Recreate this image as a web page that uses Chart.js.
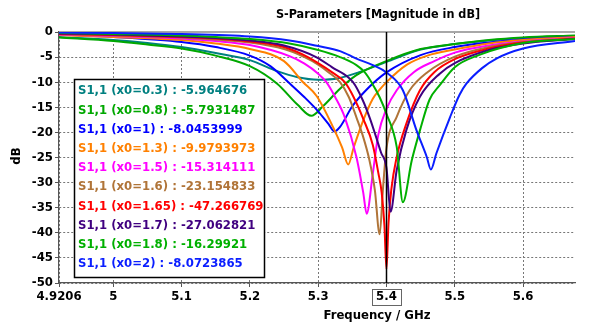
<!DOCTYPE html>
<html><head><meta charset="utf-8">
<script src="https://cdn.jsdelivr.net/npm/chart.js@4/dist/chart.umd.min.js"></script>
<style>html,body{margin:0;padding:0;background:#fff;}#wrap{width:595px;height:335px;}</style>
</head><body><div id="wrap"><canvas id="c" width="595" height="335"></canvas></div>
<script>
// ---- axis ticks ----
const xTickValues = [4.9206, 5, 5.1, 5.2, 5.3, 5.4, 5.5, 5.6];
const xTickLabels = ['4.9206', '5', '5.1', '5.2', '5.3', '5.4', '5.5', '5.6'];
const yTickValues = [0, -5, -10, -15, -20, -25, -30, -35, -40, -45, -50];
const xMin = 4.9206, xMax = 5.676;
const markerFreq = 5.4;

// ---- texts ----
const chartTitle = 'S-Parameters [Magnitude in dB]';
const xTitle = 'Frequency / GHz';
const yTitle = 'dB';
const seriesNames = ['S1,1 (x0=0.3)', 'S1,1 (x0=0.8)', 'S1,1 (x0=1)', 'S1,1 (x0=1.3)', 'S1,1 (x0=1.5)',
  'S1,1 (x0=1.6)', 'S1,1 (x0=1.65)', 'S1,1 (x0=1.7)', 'S1,1 (x0=1.8)', 'S1,1 (x0=2)'];
const markerValues = ['-5.964676', '-5.7931487', '-8.0453999', '-9.9793973', '-15.314111',
  '-23.154833', '-47.266769', '-27.062821', '-16.29921', '-8.0723865'];
const seriesColors = ['#008080', '#00A800', '#0000FF', '#FF8000', '#FF00FF',
  '#B07438', '#FF0000', '#400080', '#00B000', '#0A1EFF'];

// ---- series data (frequency GHz / dB) ----
const f03 = [4.9206, 5.0, 5.05, 5.1, 5.15, 5.2, 5.24, 5.27, 5.30, 5.33, 5.36, 5.4, 5.45, 5.5, 5.55, 5.6, 5.676];
const d03 = [-1.0, -1.6, -2.2, -3.0, -4.2, -5.6, -7.8, -9.0, -9.5, -9.2, -8.0, -5.96, -3.5, -2.4, -1.7, -1.2, -0.8];

const f08 = [4.9206, 5.0, 5.05, 5.1, 5.15, 5.2, 5.24, 5.27, 5.29, 5.307, 5.332, 5.356, 5.4, 5.45, 5.5, 5.55, 5.6, 5.676];
const d08 = [-1.1, -1.8, -2.5, -3.3, -4.7, -6.8, -10.3, -14.5, -16.7, -14.8, -11.3, -8.6, -5.79, -3.4, -2.4, -1.6, -1.1, -0.7];

const f10 = [4.9206, 5.0, 5.1, 5.15, 5.2, 5.23, 5.258, 5.28, 5.30, 5.315, 5.324, 5.332, 5.35, 5.37, 5.4, 5.45, 5.5, 5.55, 5.6, 5.676];
const d10 = [-0.5, -1.0, -2.0, -3.0, -4.7, -6.8, -10.2, -13.0, -15.8, -18.3, -19.8, -18.9, -14.8, -11.6, -8.05, -4.6, -3.0, -2.1, -1.5, -1.0];

const f13 = [4.9206, 5.0, 5.1, 5.15, 5.2, 5.25, 5.278, 5.298, 5.322, 5.335, 5.344, 5.352, 5.366, 5.38, 5.39, 5.4, 5.43, 5.46, 5.5, 5.55, 5.6, 5.676];
const d13 = [-0.6, -1.0, -1.6, -2.3, -3.4, -5.8, -10.0, -12.8, -19.0, -23.0, -26.4, -23.0, -17.6, -13.3, -11.5, -9.98, -6.5, -4.7, -3.5, -2.3, -1.6, -1.0];

const f15 = [4.9206, 5.0, 5.1, 5.15, 5.2, 5.258, 5.28, 5.30, 5.312, 5.325, 5.339, 5.356, 5.366, 5.371, 5.38, 5.388, 5.4, 5.415, 5.44, 5.47, 5.5, 5.55, 5.6, 5.676];
const d15 = [-0.5, -0.8, -1.3, -1.8, -2.6, -4.8, -6.3, -8.3, -10.0, -13.0, -17.0, -24.9, -32.0, -36.2, -28.2, -20.5, -15.31, -11.6, -8.0, -5.8, -4.1, -2.7, -1.9, -1.2];

const f16 = [4.9206, 5.0, 5.1, 5.15, 5.2, 5.25, 5.28, 5.30, 5.315, 5.332, 5.345, 5.356, 5.365, 5.375, 5.383, 5.390, 5.395, 5.4, 5.415, 5.434, 5.46, 5.5, 5.55, 5.6, 5.676];
const d16 = [-0.4, -0.7, -1.1, -1.5, -2.1, -3.4, -5.0, -6.5, -8.0, -10.0, -13.0, -17.0, -20.5, -25.5, -31.5, -40.3, -31.0, -23.15, -16.9, -11.6, -8.0, -4.9, -3.0, -2.0, -1.3];

const f165 = [4.9206, 5.0, 5.1, 5.15, 5.2, 5.25, 5.285, 5.30, 5.32, 5.339, 5.352, 5.366, 5.380, 5.388, 5.393, 5.397, 5.400, 5.403, 5.407, 5.415, 5.429, 5.449, 5.47, 5.5, 5.55, 5.6, 5.676];
const d165 = [-0.4, -0.6, -1.0, -1.3, -1.9, -3.0, -5.0, -6.2, -8.0, -10.0, -13.0, -17.3, -22.5, -28.0, -32.0, -38.5, -47.27, -38.0, -31.5, -24.9, -18.3, -11.6, -8.0, -5.4, -3.3, -2.1, -1.3];

const f17 = [4.9206, 5.0, 5.1, 5.15, 5.2, 5.25, 5.297, 5.32, 5.351, 5.365, 5.376, 5.385, 5.392, 5.4, 5.406, 5.415, 5.429, 5.449, 5.478, 5.5, 5.55, 5.6, 5.676];
const d17 = [-0.3, -0.5, -0.9, -1.2, -1.7, -2.7, -5.0, -7.0, -10.0, -13.5, -17.3, -21.0, -24.0, -27.06, -35.8, -27.5, -19.6, -12.9, -8.3, -6.2, -3.6, -2.3, -1.4];

const f18 = [4.9206, 5.0, 5.1, 5.15, 5.2, 5.258, 5.30, 5.332, 5.356, 5.368, 5.378, 5.39, 5.4, 5.415, 5.424, 5.437, 5.449, 5.463, 5.478, 5.5, 5.535, 5.6, 5.676];
const d18 = [-0.2, -0.4, -0.7, -1.0, -1.4, -2.3, -3.6, -5.0, -6.6, -8.0, -10.0, -13.0, -16.3, -22.9, -33.9, -25.6, -19.6, -13.5, -10.6, -7.0, -4.6, -2.2, -1.4];

const f20 = [4.9206, 5.0, 5.1, 5.2, 5.258, 5.3, 5.332, 5.356, 5.38, 5.4, 5.424, 5.444, 5.459, 5.465, 5.473, 5.493, 5.507, 5.517, 5.54, 5.561, 5.6, 5.676];
const d20 = [-0.1, -0.2, -0.4, -0.9, -1.7, -2.8, -3.8, -5.3, -6.6, -8.07, -11.6, -19.6, -24.9, -27.4, -24.2, -17.0, -12.5, -10.3, -7.2, -5.3, -3.3, -1.8];

const seriesFreqs = [f03, f08, f10, f13, f15, f16, f165, f17, f18, f20];
const seriesDb = [d03, d08, d10, d13, d15, d16, d165, d17, d18, d20];

// ---- layout / style ----
const FONT = "'DejaVu Sans Condensed', 'DejaVu Sans', sans-serif";
const plotLeft = 59, plotRight = 575, plotTop = 32, plotBottom = 283;
const W = 595, H = 335;

const datasets = seriesNames.map((name, i) => ({
  label: name,
  data: seriesFreqs[i].map((f, k) => ({ x: f, y: seriesDb[i][k] })),
  borderColor: seriesColors[i],
  backgroundColor: seriesColors[i],
  borderWidth: 2,
  pointRadius: 0,
  cubicInterpolationMode: 'monotone',
  fill: false,
  order: seriesNames.length - i
}));

const decor = {
  id: 'decor',
  beforeDatasetsDraw(chart) {
    const { ctx, chartArea: a } = chart;
    ctx.save();
    ctx.strokeStyle = '#a8a8a8';
    ctx.lineWidth = 2;
    ctx.beginPath(); ctx.moveTo(a.left, a.top); ctx.lineTo(a.right, a.top); ctx.stroke();
    ctx.restore();
  },
  afterDatasetsDraw(chart) {
    const { ctx, chartArea: a, scales: { x } } = chart;
    ctx.save();
    // marker line
    const mx = Math.round(x.getPixelForValue(markerFreq)) + 0.5;
    ctx.strokeStyle = '#000';
    ctx.lineWidth = 1.5;
    ctx.beginPath(); ctx.moveTo(mx, a.top); ctx.lineTo(mx, a.bottom); ctx.stroke();
    // box around marker tick label
    ctx.strokeStyle = '#666';
    ctx.lineWidth = 1;
    ctx.strokeRect(Math.round(mx - 15) + 0.5, 289.5, 29, 16);
    // legend box
    const lx = 74.5, ly = 79.5, lw = 190, lh = 198;
    ctx.fillStyle = '#fff';
    ctx.fillRect(lx, ly, lw, lh);
    ctx.strokeStyle = '#000';
    ctx.lineWidth = 1.5;
    ctx.strokeRect(lx, ly, lw, lh);
    ctx.font = 'bold 13px ' + FONT;
    ctx.textBaseline = 'middle';
    ctx.textAlign = 'left';
    seriesNames.forEach((n, i) => {
      ctx.fillStyle = seriesColors[i];
      ctx.fillText(n + ' : ' + markerValues[i], 78, 91 + i * 19.2);
    });
    // titles
    ctx.fillStyle = '#000';
    ctx.textAlign = 'center';
    ctx.font = 'bold 12.5px ' + FONT;
    ctx.fillText(chartTitle, 378, 15);
    ctx.font = 'bold 13px ' + FONT;
    ctx.fillText(xTitle, 377, 316);
    ctx.translate(17, 156);
    ctx.rotate(-Math.PI / 2);
    ctx.fillText(yTitle, 0, 0);
    ctx.restore();
  }
};

new Chart(document.getElementById('c'), {
  type: 'line',
  data: { datasets },
  options: {
    responsive: false,
    animation: false,
    events: [],
    layout: { padding: { left: 0, right: W - plotRight, top: plotTop, bottom: 0 } },
    plugins: { legend: { display: false }, tooltip: { enabled: false }, title: { display: false } },
    scales: {
      x: {
        type: 'linear', min: xMin, max: xMax,
        afterBuildTicks: s => { s.ticks = xTickValues.map(v => ({ value: v })); },
        afterFit: s => { s.height = H - plotBottom; },
        ticks: {
          autoSkip: false, maxRotation: 0, padding: 2, color: '#000',
          font: { family: FONT, size: 13, weight: 'bold' },
          callback: v => { const k = xTickValues.indexOf(v); return k >= 0 ? xTickLabels[k] : ''; }
        },
        grid: { color: '#777', lineWidth: 1, tickLength: 4, tickColor: '#555' },
        border: { color: '#555', width: 1.2, dash: [2, 2] }
      },
      y: {
        type: 'linear', min: -50, max: 0,
        afterBuildTicks: s => { s.ticks = yTickValues.map(v => ({ value: v })); },
        afterFit: s => { s.width = plotLeft; },
        ticks: {
          padding: 2, color: '#000',
          font: { family: FONT, size: 13, weight: 'bold' },
          callback: v => String(v)
        },
        grid: { color: '#777', lineWidth: 1, tickLength: 4, tickColor: '#555' },
        border: { color: '#555', width: 1.2, dash: [2, 2] }
      }
    }
  },
  plugins: [decor]
});
</script></body></html>
